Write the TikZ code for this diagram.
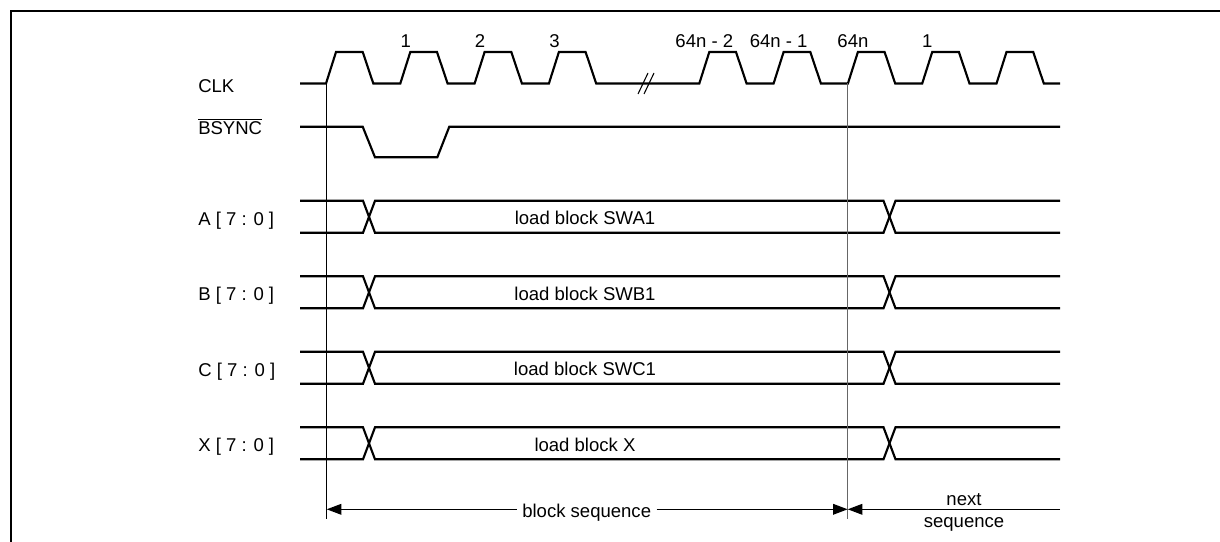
\documentclass[tikz,border=0pt]{standalone}
\usepackage{fontspec}
\setmainfont{Liberation Sans}
\usetikzlibrary{arrows.meta}
\begin{document}
\begin{tikzpicture}[x=0.75pt,y=-0.75pt,
  sig/.style={line width=1.6pt, line join=miter, line cap=butt},
  lbl/.style={font=\fontsize{13.9}{16}\selectfont, inner sep=0pt},
  dim/.style={line width=1.1pt, -{Triangle[length=11pt,width=8pt]}},
  brk/.style={line width=0.8pt}]
\useasboundingbox (0,0) rectangle (1220,542);
% frame
\draw[line width=1.5pt] (11,542) -- (11,11) -- (1220,11);
% row labels
\node[lbl, anchor=base west] (lclk) at (198,92.5) {CLK};
\node[lbl, anchor=base west] (lbs) at (198,134) {$\overline{\hbox{BSYNC}}$};
\node[lbl, anchor=base west] (la) at (198,225) {A [ 7 : 0 ]};
\node[lbl, anchor=base west] (lb) at (198,300.5) {B [ 7 : 0 ]};
\node[lbl, anchor=base west] (lc) at (198,376) {C [ 7 : 0 ]};
\node[lbl, anchor=base west] (lx) at (198,451.5) {X [ 7 : 0 ]};
% clock
\draw[sig] (300,83.5)
  foreach \r in {326,400.3,474.6,548.9} { -- (\r,83.5) -- (\r+10,52) -- (\r+36.7,52) -- (\r+47.3,83.5) }
  foreach \r in {699.3,773.6,847.9,922.2,996.5} { -- (\r,83.5) -- (\r+10,52) -- (\r+36.7,52) -- (\r+47.3,83.5) }
  -- (1060,83.5);
% break marks
\draw[brk] (638,94) -- (648,73);
\draw[brk] (644,94) -- (654,73);
% clock numbers
\node[lbl, anchor=base] (n1) at (405.8,47.5) {1};
\node[lbl, anchor=base] (n2) at (480.1,47.5) {2};
\node[lbl, anchor=base] (n3) at (554.4,47.5) {3};
\node[lbl, anchor=base] (n4) at (704.3,47.5) {64n - 2};
\node[lbl, anchor=base] (n5) at (778.6,47.5) {64n - 1};
\node[lbl, anchor=base] (n6) at (852.9,47.5) {64n};
\node[lbl, anchor=base] (n7) at (927.2,47.5) {1};
% BSYNC
\draw[sig] (300,126.7) -- (362.7,126.7) -- (375,157.3) -- (437.3,157.3) -- (449.3,126.7) -- (1060,126.7);
% buses
\foreach \c/\t/\n in {216.8/{load block SWA1}/ta, 292.3/{load block SWB1}/tb, 367.8/{load block SWC1}/tc, 443.3/{load block X}/tx}{
  \draw[sig] (300,\c-16) -- (363,\c-16) -- (375,\c+16) -- (883.5,\c+16) -- (895.5,\c-16) -- (1060,\c-16);
  \draw[sig] (300,\c+16) -- (363,\c+16) -- (375,\c-16) -- (883.5,\c-16) -- (895.5,\c+16) -- (1060,\c+16);
  \node[lbl, anchor=base] (\n) at (585,\c+8) {\t};
}
% vertical reference lines
\draw[line width=0.8pt] (326.7,83.5) -- (326.7,519);
\draw[line width=0.6pt, black!60] (847.7,83.5) -- (847.7,519);
% sequence dimensions
\coordinate (L) at (326.7,509.3);
\coordinate (M) at (847.7,509.3);
\coordinate (R) at (1060,509.3);
\node[lbl, anchor=base, inner xsep=4pt] (bs) at (586.7,517) {block sequence};
\draw[dim] (bs.west |- L) -- (L);
\draw[dim] (bs.east |- L) -- (M);
\draw[dim] (R) -- (M);
\node[lbl, anchor=base] (nx) at (964,505) {next};
\node[lbl, anchor=base] (sq) at (964,527.5) {sequence};
\end{tikzpicture}
\end{document}
